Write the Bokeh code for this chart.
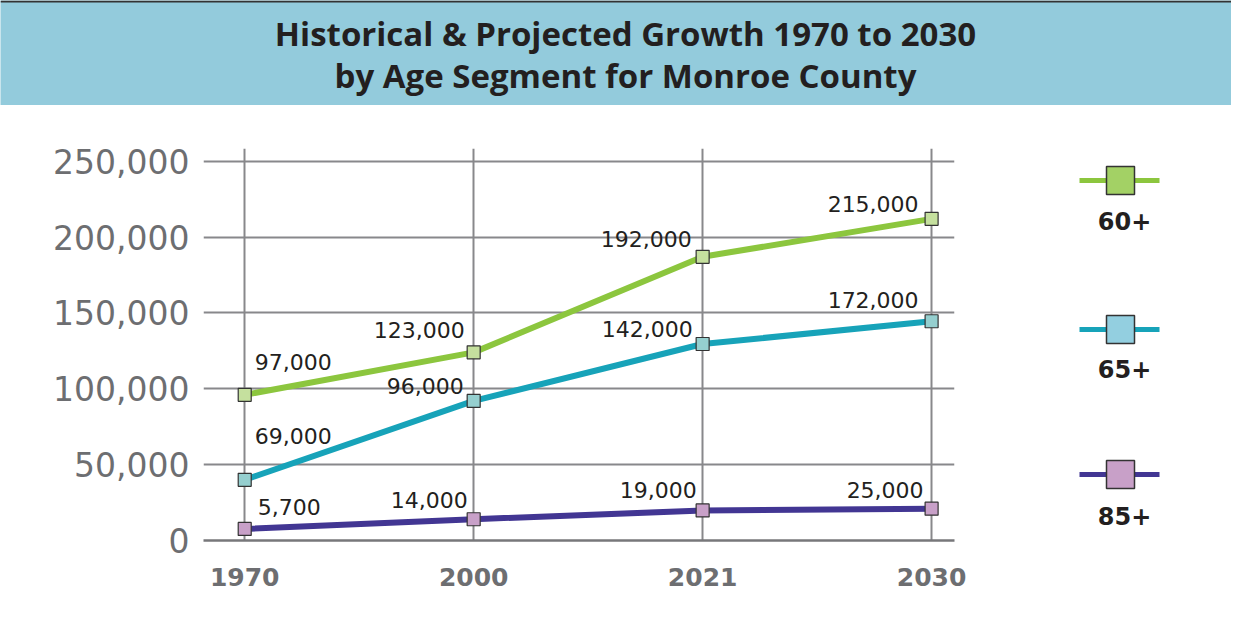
from bokeh.plotting import figure
from bokeh.layouts import column, row
from bokeh.models import Range1d, FixedTicker, NumeralTickFormatter, ColumnDataSource
from bokeh.core.properties import value
from bokeh.embed import file_html
from bokeh.resources import INLINE

# ---------------- data ----------------
years = ["1970", "2000", "2021", "2030"]
series_names = ["60+", "65+", "85+"]
values_60 = [96000, 124000, 187000, 212000]
values_65 = [40000, 92000, 129500, 144500]
values_85 = [7600, 14000, 19800, 21000]
labels_60 = ["97,000", "123,000", "192,000", "215,000"]
labels_65 = ["69,000", "96,000", "142,000", "172,000"]
labels_85 = ["5,700", "14,000", "19,000", "25,000"]
y_ticks = [0, 50000, 100000, 150000, 200000, 250000]

title_lines = ["Historical & Projected Growth 1970 to 2030",
               "by Age Segment for Monroe County"]

# ---------------- styles ----------------
line_colors = ["#8cc63e", "#17a3b9", "#423693"]
marker_fills = ["#c5e09e", "#95cfcf", "#c8a0c8"]
legend_fills = ["#a3d165", "#93cfe0", "#c8a0c8"]
band_color = "#93cbdc"
grid_color = "#88888b"
tick_gray = "#6d6e71"
dark = "#231f20"
FONT = "DejaVu Sans"

# label placement (pixel offsets from the marker, align)
label_layout = [
    [(10, -33, "left"), (-9, -22, "right"), (-11, -18, "right"), (-13, -15, "right")],
    [(10, -44, "left"), (-10, -15, "right"), (-10, -15, "right"), (-13, -21, "right")],
    [(13, -22, "left"), (-6, -19, "right"), (-6, -20, "right"), (-8, -19, "right")],
]

TOTAL_W = 1231
BAND_H = 105
BODY_H = 601 - BAND_H
MAIN_W = 1000
B_TOP, B_BOTTOM = 43, 61          # frame 392 px tall
FRAME_TOP = BAND_H + B_TOP        # page y of frame top
FRAME_BOTTOM = BODY_H + BAND_H - B_BOTTOM

# ---------------- title band ----------------
tb = figure(width=TOTAL_W, height=BAND_H, output_backend="svg", toolbar_location=None,
            x_range=Range1d(0, TOTAL_W), y_range=Range1d(BAND_H, 0),
            min_border=0, background_fill_color=band_color, border_fill_color=band_color,
            outline_line_color=None)
tb.axis.visible = False
tb.grid.visible = False
tb.line([0, TOTAL_W], [1, 1], line_color="#333333", line_width=2)
tb.text(x=[625, 625], y=[33, 75], text=title_lines, text_align="center",
        text_baseline="middle", text_font=value("Open Sans"), text_font_style="bold",
        text_font_size="33px", text_color=dark)

# ---------------- main chart ----------------
xs = list(range(len(years)))
p = figure(width=MAIN_W, height=BODY_H, output_backend="svg", toolbar_location=None,
           x_range=Range1d(-0.18, 3.10), y_range=Range1d(0, 258370),
           min_border_left=203, min_border_right=MAIN_W - 954, min_border_top=B_TOP,
           min_border_bottom=B_BOTTOM,
           outline_line_color=None, background_fill_color="white")

p.xaxis.ticker = FixedTicker(ticks=xs)
p.xaxis.major_label_overrides = {i: y for i, y in enumerate(years)}
p.xaxis.major_tick_line_color = None
p.xaxis.minor_tick_line_color = None
p.xaxis.axis_line_color = "#77777a"
p.xaxis.axis_line_width = 2.5
p.xaxis.major_label_standoff = 21
p.xaxis.major_label_text_font = FONT
p.xaxis.major_label_text_font_style = "bold"
p.xaxis.major_label_text_font_size = "25px"
p.xaxis.major_label_text_color = tick_gray

p.yaxis.ticker = FixedTicker(ticks=y_ticks)
p.yaxis.formatter = NumeralTickFormatter(format="0,0")
p.yaxis.major_tick_line_color = None
p.yaxis.minor_tick_line_color = None
p.yaxis.axis_line_color = None
p.yaxis.major_label_standoff = 8
p.yaxis.major_label_text_font = FONT
p.yaxis.major_label_text_font_size = "33px"
p.yaxis.major_label_text_color = tick_gray

p.xgrid.ticker = FixedTicker(ticks=xs)
p.ygrid.ticker = FixedTicker(ticks=y_ticks)
p.grid.grid_line_color = grid_color
p.grid.grid_line_width = 2

all_values = [values_60, values_65, values_85]
all_labels = [labels_60, labels_65, labels_85]
for vals, col in zip(all_values, line_colors):
    p.line(xs, vals, line_color=col, line_width=6)
for vals, fill in zip(all_values, marker_fills):
    p.scatter(xs, vals, marker="square", size=13, fill_color=fill,
              line_color="#333333", line_width=1.2)

for vals, labs, lay in zip(all_values, all_labels, label_layout):
    for align in ("left", "right"):
        idx = [i for i in range(len(xs)) if lay[i][2] == align]
        if not idx:
            continue
        src = ColumnDataSource(dict(
            x=[xs[i] for i in idx], y=[vals[i] for i in idx],
            t=[labs[i] for i in idx],
            dx=[lay[i][0] for i in idx], dy=[lay[i][1] for i in idx]))
        p.text(x="x", y="y", text="t", x_offset="dx", y_offset="dy", source=src,
               text_align=align, text_baseline="middle", text_font=value(FONT),
               text_font_size="22px", text_color=dark)

# ---------------- legend panel (page coordinates) ----------------
LEG_W = TOTAL_W - MAIN_W
lg = figure(width=LEG_W, height=BODY_H, output_backend="svg", toolbar_location=None,
            x_range=Range1d(MAIN_W, TOTAL_W), y_range=Range1d(FRAME_BOTTOM, FRAME_TOP),
            min_border_left=0, min_border_right=0, min_border_top=B_TOP,
            min_border_bottom=B_BOTTOM, outline_line_color=None)
lg.axis.visible = False
lg.grid.visible = False
leg_line_y = [180, 329, 474]
leg_text_y = [220, 368, 515]
for i, name in enumerate(series_names):
    lg.line([1079, 1159], [leg_line_y[i], leg_line_y[i]], line_color=line_colors[i], line_width=5)
    lg.scatter([1120], [leg_line_y[i]], marker="square", size=28, fill_color=legend_fills[i],
               line_color="#333333", line_width=1.5)
    lg.text([1124], [leg_text_y[i]], text=[name], text_align="center", text_baseline="middle",
            text_font=value(FONT), text_font_style="bold", text_font_size="24px",
            text_color=dark)

layout = column(tb, row(p, lg, spacing=0), spacing=0)
open("out.html", "w").write(file_html(layout, INLINE))
